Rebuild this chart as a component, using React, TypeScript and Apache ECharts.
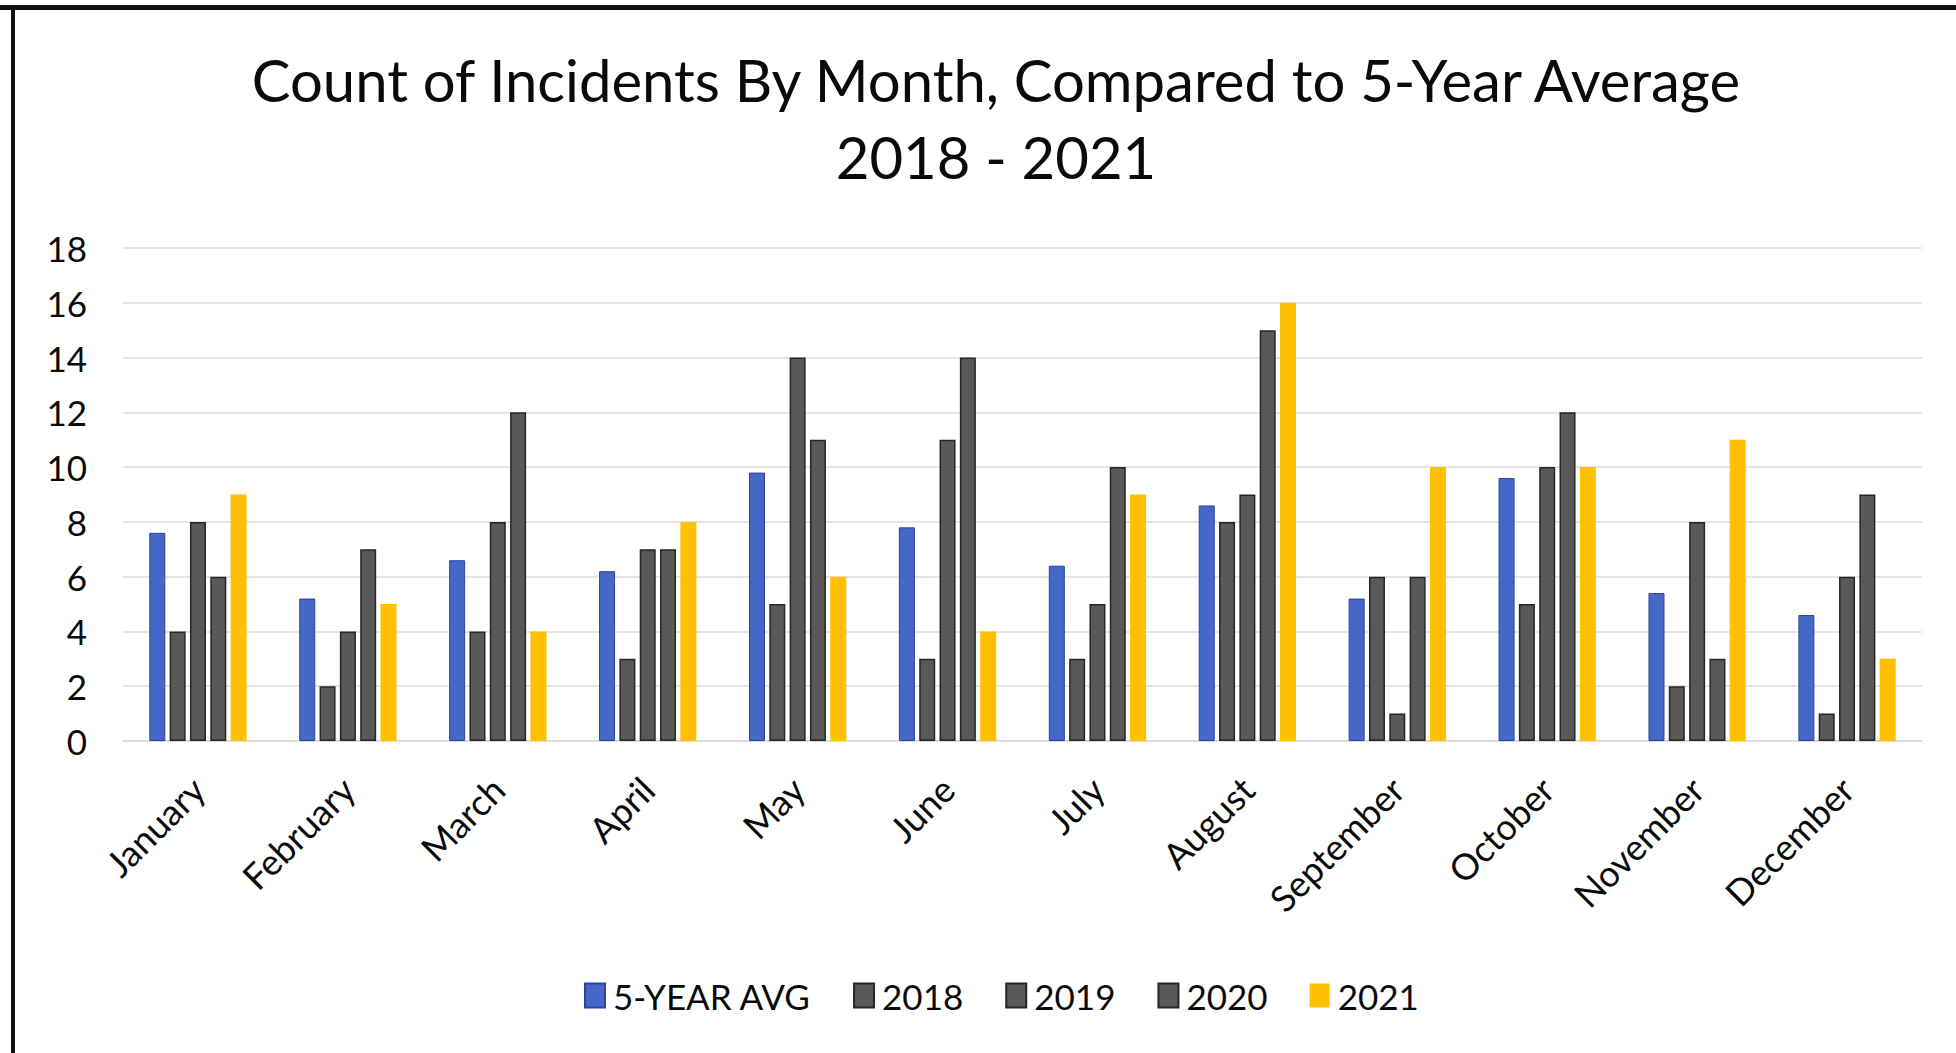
import React, { useEffect, useRef } from "react";
import * as echarts from "echarts";

// Monthly incident counts by year and the 5-year average
const months = [
  "January", "February", "March", "April", "May", "June",
  "July", "August", "September", "October", "November", "December",
];
const avg5Year = [7.6, 5.2, 6.6, 6.2, 9.8, 7.8, 6.4, 8.6, 5.2, 9.6, 5.4, 4.6];
const y2018 = [4, 2, 4, 3, 5, 3, 3, 8, 6, 5, 2, 1];
const y2019 = [8, 4, 8, 7, 14, 11, 5, 9, 1, 10, 8, 6];
const y2020 = [6, 7, 12, 7, 11, 14, 10, 15, 6, 12, 3, 9];
const y2021 = [9, 5, 4, 8, 6, 4, 9, 16, 10, 10, 11, 3];
const yTicks = { min: 0, max: 18, interval: 2 };

const titleLine1 = "Count of Incidents By Month, Compared to 5-Year Average";
const titleLine2 = "2018 - 2021";

const FONT = "Lato, 'Open Sans', sans-serif";

export default function App() {
  const ref = useRef<HTMLDivElement>(null);

  useEffect(() => {
    if (!ref.current) return;
    const chart = echarts.init(ref.current, undefined, { renderer: "svg" });

    const grey = {
      color: "#595959",
      borderColor: "#262626",
      borderWidth: 1.5,
    };

    const bar = (name: string, data: number[], itemStyle: any) => ({
      name,
      type: "bar",
      data,
      barWidth: 16,
      barGap: "27%",
      itemStyle,
    });

    chart.setOption({
      animation: false,
      backgroundColor: "#ffffff",
      textStyle: { fontFamily: FONT },
      graphic: [
        // frame edges
        { type: "rect", shape: { x: 0, y: 5, width: 1956, height: 5 }, style: { fill: "#111" } },
        { type: "rect", shape: { x: 11, y: 5, width: 4, height: 1048 }, style: { fill: "#111" } },
        {
          type: "text",
          style: {
            x: 996, y: 79, text: titleLine1, fontFamily: FONT, fontSize: 58,
            fill: "#0a0a0a", textAlign: "center", textVerticalAlign: "middle",
          },
        },
        {
          type: "text",
          style: {
            x: 996, y: 156, text: titleLine2, fontFamily: FONT, fontSize: 58,
            fill: "#0a0a0a", textAlign: "center", textVerticalAlign: "middle",
          },
        },
      ],
      grid: { left: 123, right: 34, top: 248, bottom: 312, containLabel: false },
      legend: {
        left: 579,
        top: 973,
        itemWidth: 20,
        itemHeight: 24,
        itemGap: 42,
        icon: "rect",
        textStyle: { fontFamily: FONT, fontSize: 35, color: "#0a0a0a", padding: [0, 0, 0, 3] },
        data: ["5-YEAR AVG", "2018", "2019", "2020", "2021"],
      },
      xAxis: {
        type: "category",
        data: months,
        axisLine: { show: true, lineStyle: { color: "#d9d9d9", width: 1.5 } },
        axisTick: { show: false },
        axisLabel: {
          rotate: 45,
          margin: 42,
          fontFamily: FONT,
          fontSize: 36,
          color: "#0a0a0a",
          interval: 0,
        },
      },
      yAxis: {
        type: "value",
        min: yTicks.min,
        max: yTicks.max,
        interval: yTicks.interval,
        axisLine: { show: false },
        axisTick: { show: false },
        splitLine: { lineStyle: { color: "#dcdcdc", width: 1.5 } },
        axisLabel: { fontFamily: FONT, fontSize: 35, color: "#0a0a0a", margin: 36 },
      },
      series: [
        bar("5-YEAR AVG", avg5Year, { color: "#4568C8", borderColor: "#2B43A0", borderWidth: 1 }),
        bar("2018", y2018, grey),
        bar("2019", y2019, grey),
        bar("2020", y2020, grey),
        bar("2021", y2021, { color: "#FFC000" }),
      ],
    });

    return () => chart.dispose();
  }, []);

  return (
    <div
      ref={ref}
      style={{ position: "fixed", left: 0, top: 0, width: 1956, height: 1053 }}
    />
  );
}
